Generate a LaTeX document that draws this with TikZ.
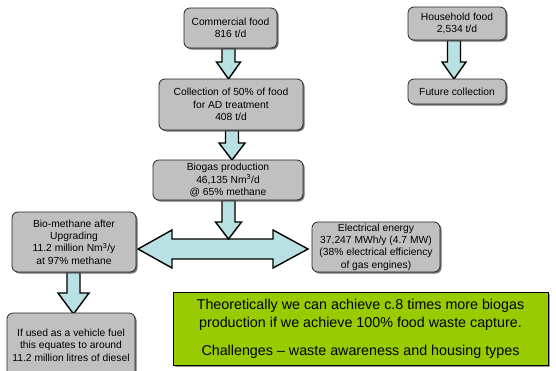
\documentclass[tikz,border=0pt]{standalone}
\usepackage{fontspec}
\setmainfont{Liberation Sans}
\usetikzlibrary{calc,shadows}
\definecolor{boxgray}{HTML}{C0C0C0}
\definecolor{arrowcyan}{HTML}{B9E0E2}
\definecolor{greenbox}{HTML}{99CC00}
\tikzset{
  gbox/.style={draw=black!85, line width=0.8pt, fill=boxgray, rounded corners=6pt,
    align=center, inner sep=1pt, font=\fontsize{10.3}{12.4}\selectfont,
    drop shadow={shadow xshift=1.5pt, shadow yshift=-1.5pt, fill=black!70, opacity=.8}},
  blockarrow/.style={draw=black, line width=1.4pt, fill=arrowcyan, line join=miter},
  notebox/.style={draw=black, line width=0.8pt, fill=greenbox, align=center, inner sep=0pt,
    font=\fontsize{14.3}{18}\selectfont,
    drop shadow={shadow xshift=1.5pt, shadow yshift=-1.5pt, fill=black!50, opacity=.8}}
}
% down block arrow: #1 x centre, #2 top y, #3 tip y, #4 shaft half width, #5 head half width, #6 head length
\newcommand\blkdown[6]{%
  \draw[blockarrow] ($(#1-#4,#2)$) -- ($(#1-#4,#3-#6)$) -- ($(#1-#5,#3-#6)$) -- (#1,#3)
   -- ($(#1+#5,#3-#6)$) -- ($(#1+#4,#3-#6)$) -- ($(#1+#4,#2)$) -- cycle;}
\begin{document}
\begin{tikzpicture}[x=1pt,y=-1pt]
\path[use as bounding box, fill=white] (0,0) rectangle (556,370);
\begin{scope}
\clip (0,0) rectangle (556,370);
% arrows (behind boxes)
\blkdown{228.5}{48}{79}{6.5}{12}{17}
\blkdown{454}{40}{79}{6.5}{12}{17}
\blkdown{232}{130}{160}{6.5}{13}{17}
\blkdown{73.5}{272}{314}{6.5}{15.5}{21}
% double arrow
\coordinate (dl) at (138,249);
\coordinate (dr) at (308,249);
\draw[blockarrow] (dl) -- (172,230) -- (172,239) -- (273,239) -- (273,230) -- (dr)
  -- (273,268) -- (273,259) -- (172,259) -- (172,268) -- cycle;
\blkdown{228.5}{200}{239}{6.5}{13}{17}

\node[gbox, minimum width=93pt, minimum height=40pt] (comm) at (230.5,28) {Commercial food\\816 t/d};
\node[gbox, minimum width=98pt, minimum height=33pt] (house) at (457,23.5) {Household food\\2,534 t/d};
\node[gbox, minimum width=98pt, minimum height=25pt] (future) at (457,91.5) {Future collection};
\node[gbox, minimum width=144pt, minimum height=51pt] (coll) at (231,104.5) {Collection of 50\% of food\\for AD treatment\\408 t/d};
\node[gbox, minimum width=150pt, minimum height=40pt] (biogas) at (228,180) {Biogas production\\46,135 Nm\textsuperscript{3}/d\\@ 65\% methane};
\node[gbox, minimum width=124pt, minimum height=60pt] (biometh) at (74,242) {Bio-methane after\\Upgrading\\11.2 million Nm\textsuperscript{3}/y\\at 97\% methane};
\node[gbox, minimum width=128pt, minimum height=50pt] (elec) at (376,247) {Electrical energy\\37,247 MWh/y (4.7 MW)\\(38\% electrical efficiency\\of gas engines)};
\node[gbox, minimum width=128pt, minimum height=64pt] (diesel) at (71,345) {If used as a vehicle fuel\\this equates to around\\11.2 million litres of diesel};
\node[notebox, minimum width=375pt, minimum height=73pt] (note) at (360.5,328.5)
  {Theoretically we can achieve c.8 times more biogas\\production if we achieve 100\% food waste capture.\\[10pt]Challenges – waste awareness and housing types};
\end{scope}
\end{tikzpicture}
\end{document}
